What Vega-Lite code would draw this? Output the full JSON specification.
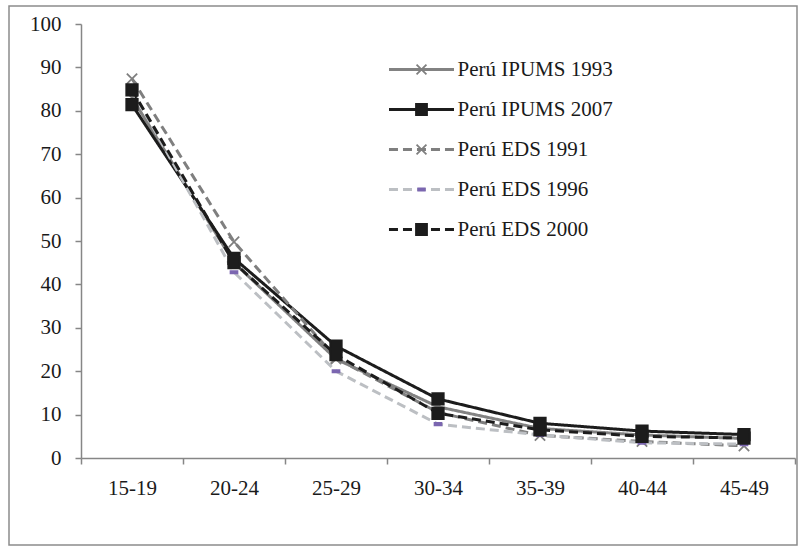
{
  "$schema": "https://vega.github.io/schema/vega-lite/v6.json",
  "width": 788,
  "height": 539,
  "autosize": {"type": "none"},
  "padding": {"left": 9, "top": 6, "right": 3, "bottom": 5},
  "background": "white",
  "config": {
    "view": {"stroke": "#8c8c8c", "strokeWidth": 1.5},
    "font": "Liberation Serif",
    "axis": {"labelFont": "Liberation Serif", "labelFontSize": 21, "labelColor": "#1a1a1a", "domainColor": "#868686", "domainWidth": 1.5, "tickColor": "#868686", "tickWidth": 1.5, "tickSize": 6, "grid": false, "title": null},
    "legend": {"labelFont": "Liberation Serif", "labelFontSize": 21, "labelColor": "#1a1a1a", "padding": 0, "title": null}
  },
  "data": {
    "values": [
      {"age": "15-19", "series": "Perú IPUMS 1993", "value": 83.0},
      {"age": "20-24", "series": "Perú IPUMS 1993", "value": 45.0},
      {"age": "25-29", "series": "Perú IPUMS 1993", "value": 22.8},
      {"age": "30-34", "series": "Perú IPUMS 1993", "value": 11.8},
      {"age": "35-39", "series": "Perú IPUMS 1993", "value": 6.8},
      {"age": "40-44", "series": "Perú IPUMS 1993", "value": 5.3},
      {"age": "45-49", "series": "Perú IPUMS 1993", "value": 4.5},
      {"age": "15-19", "series": "Perú IPUMS 2007", "value": 81.4},
      {"age": "20-24", "series": "Perú IPUMS 2007", "value": 46.0},
      {"age": "25-29", "series": "Perú IPUMS 2007", "value": 25.8},
      {"age": "30-34", "series": "Perú IPUMS 2007", "value": 13.6},
      {"age": "35-39", "series": "Perú IPUMS 2007", "value": 8.0},
      {"age": "40-44", "series": "Perú IPUMS 2007", "value": 6.2},
      {"age": "45-49", "series": "Perú IPUMS 2007", "value": 5.4},
      {"age": "15-19", "series": "Perú EDS 1991", "value": 87.4},
      {"age": "20-24", "series": "Perú EDS 1991", "value": 49.8},
      {"age": "25-29", "series": "Perú EDS 1991", "value": 23.0},
      {"age": "30-34", "series": "Perú EDS 1991", "value": 10.5},
      {"age": "35-39", "series": "Perú EDS 1991", "value": 5.2},
      {"age": "40-44", "series": "Perú EDS 1991", "value": 3.8},
      {"age": "45-49", "series": "Perú EDS 1991", "value": 2.8},
      {"age": "15-19", "series": "Perú EDS 1996", "value": 84.8},
      {"age": "20-24", "series": "Perú EDS 1996", "value": 42.8},
      {"age": "25-29", "series": "Perú EDS 1996", "value": 20.0},
      {"age": "30-34", "series": "Perú EDS 1996", "value": 7.8},
      {"age": "35-39", "series": "Perú EDS 1996", "value": 5.3},
      {"age": "40-44", "series": "Perú EDS 1996", "value": 3.5},
      {"age": "45-49", "series": "Perú EDS 1996", "value": 3.2},
      {"age": "15-19", "series": "Perú EDS 2000", "value": 84.8},
      {"age": "20-24", "series": "Perú EDS 2000", "value": 45.0},
      {"age": "25-29", "series": "Perú EDS 2000", "value": 23.8},
      {"age": "30-34", "series": "Perú EDS 2000", "value": 10.3},
      {"age": "35-39", "series": "Perú EDS 2000", "value": 6.5},
      {"age": "40-44", "series": "Perú EDS 2000", "value": 5.0},
      {"age": "45-49", "series": "Perú EDS 2000", "value": 4.6}
    ]
  },
  "encoding": {
    "x": {
      "field": "age", "type": "ordinal",
      "scale": {"type": "band", "range": [72, 786], "paddingInner": 0, "paddingOuter": 0},
      "axis": {"orient": "bottom", "offset": -87, "labelAngle": 0, "tickBand": "extent", "labelPadding": 13}
    },
    "y": {
      "field": "value", "type": "quantitative",
      "scale": {"domain": [0, 100], "range": [452, 18], "nice": false, "zero": false},
      "axis": {"orient": "left", "offset": -72, "values": [0, 10, 20, 30, 40, 50, 60, 70, 80, 90, 100], "labelPadding": 14}
    }
  },
  "layer": [
    {
      "mark": {"type": "line", "strokeWidth": 3},
      "encoding": {
        "stroke": {
          "field": "series", "type": "nominal",
          "scale": {"domain": ["Perú IPUMS 1993", "Perú IPUMS 2007", "Perú EDS 1991", "Perú EDS 1996", "Perú EDS 2000"], "range": ["#828282", "#1c1c1c", "#7f7f7f", "#bcbfc3", "#1c1c1c"]},
          "legend": {"orient": "none", "legendX": 402, "legendY": 53, "symbolType": "M-5.42,0L5.42,0", "symbolSize": 144, "symbolStrokeWidth": 3, "rowPadding": 18, "labelOffset": 25.5}
        },
        "strokeDash": {
          "field": "series", "type": "nominal",
          "scale": {"domain": ["Perú IPUMS 1993", "Perú IPUMS 2007", "Perú EDS 1991", "Perú EDS 1996", "Perú EDS 2000"], "range": [[1, 0], [1, 0], [9, 5], [9, 5], [9, 5]]},
          "legend": {"orient": "none", "legendX": 402, "legendY": 53, "symbolType": "M-5.42,0L5.42,0", "symbolSize": 144, "symbolStrokeWidth": 3, "rowPadding": 18, "labelOffset": 25.5}
        }
      }
    },
    {
      "mark": {"type": "point", "filled": false, "strokeWidth": 1.8, "size": 132, "opacity": 1},
      "encoding": {
        "shape": {
          "field": "series", "type": "nominal",
          "scale": {"domain": ["Perú IPUMS 1993", "Perú IPUMS 2007", "Perú EDS 1991", "Perú EDS 1996", "Perú EDS 2000"], "range": ["M-0.9,-0.9L0.9,0.9M-0.9,0.9L0.9,-0.9", "square", "M-0.9,-0.9L0.9,0.9M-0.9,0.9L0.9,-0.9", "M-0.6,-0.2L0.6,-0.2L0.6,0.2L-0.6,0.2Z", "square"]},
          "legend": {"orient": "none", "legendX": 402, "legendY": 53, "symbolSize": 121, "rowPadding": 18, "labelOffset": 25.5, "labelOpacity": 0, "symbolStrokeWidth": 1.8}
        },
        "fill": {
          "field": "series", "type": "nominal",
          "scale": {"domain": ["Perú IPUMS 1993", "Perú IPUMS 2007", "Perú EDS 1991", "Perú EDS 1996", "Perú EDS 2000"], "range": ["#7f7f7f", "#1c1c1c", "#7f7f7f", "#7b66b0", "#1c1c1c"]},
          "legend": {"orient": "none", "legendX": 402, "legendY": 53, "symbolSize": 121, "rowPadding": 18, "labelOffset": 25.5, "labelOpacity": 0, "symbolStrokeWidth": 1.8}
        },
        "stroke": {
          "field": "series", "type": "nominal",
          "scale": {"domain": ["Perú IPUMS 1993", "Perú IPUMS 2007", "Perú EDS 1991", "Perú EDS 1996", "Perú EDS 2000"], "range": ["#7f7f7f", "#1c1c1c", "#7f7f7f", "#7b66b0", "#1c1c1c"]},
          "legend": {"orient": "none", "legendX": 402, "legendY": 53, "symbolSize": 121, "rowPadding": 18, "labelOffset": 25.5, "labelOpacity": 0, "symbolStrokeWidth": 1.8}
        }
      }
    }
  ],
  "resolve": {"scale": {"stroke": "independent", "strokeDash": "independent", "shape": "independent", "fill": "independent"}}
}
